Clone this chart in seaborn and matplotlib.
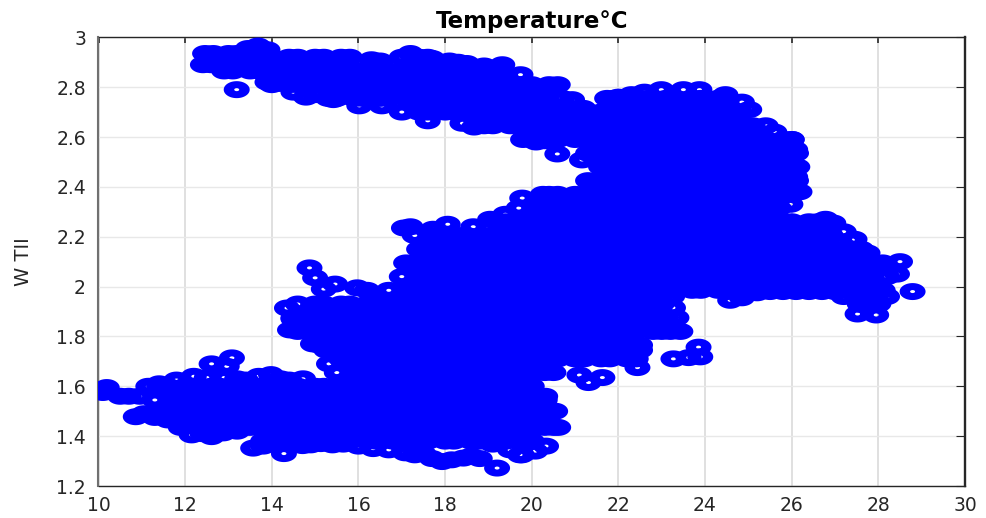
import matplotlib
matplotlib.use("Agg")
import matplotlib.pyplot as plt
import numpy as np
import pandas as pd
import seaborn as sns
from matplotlib.path import Path

edge_x = [13.19, 19.32, 19.74, 14.79, 17.6, 16.54, 16.02, 18.4, 18.67, 19.02, 19.78, 18.06, 17.72, 17.2, 17.05, 19.39, 19.04, 18.65,
          20.59, 21.16, 20.26, 22.99, 23.5, 23.87, 24.47, 24.85, 25.02, 25.4, 25.6, 26.0, 25.8, 26.08, 26.13, 26.08, 25.9, 26.18, 25.97, 26.78, 26.73, 26.96,
          27.2, 27.4, 27.45, 27.75, 28.5, 27.98, 12.46, 12.65, 12.41, 12.6, 12.9, 13.19, 13.0, 13.45, 13.68, 13.9, 14.2, 15.42, 16.3, 16.5, 17.2, 17.7, 18.1, 18.3, 18.5, 18.9,
          20.1, 20.3, 20.5, 20.93, 21.19, 21.74, 22.0, 22.3, 22.6, 13.9, 14.5, 15.0,
          10.1, 10.19, 10.5, 10.7, 10.95, 11.05, 10.86, 11.3, 11.6, 11.9, 12.61, 13.08, 12.96, 15.32, 14.87, 15.0, 15.2, 15.46, 15.97, 16.2, 16.34, 14.35, 14.42,
          14.5, 14.95, 15.26, 14.72, 14.4, 14.2, 13.98, 13.7, 13.4, 13.2, 12.9, 12.5, 12.2, 11.8, 11.4, 11.15,
          14.28, 14.71, 14.9, 13.57, 13.8, 15.13, 15.4, 15.65, 16.0, 16.34, 16.7, 17.08, 17.3, 17.5, 17.7, 19.2, 17.93, 18.15, 18.42, 18.6, 18.8, 19.1, 19.5, 19.77, 20.08,
          12.15, 12.61, 12.88, 13.2, 12.4,
          28.79, 27.95, 27.52, 27.57, 27.2, 28.2, 28.43, 26.4, 26.7, 25.8, 26.1, 25.2, 25.5, 24.58, 24.85, 24.1, 24.5, 24.9, 27.0,
          23.26, 22.94, 23.34, 23.24, 23.43, 23.27, 23.62, 23.89, 23.85, 22.5, 22.44, 21.63, 21.31, 21.1, 20.31, 20.54, 20.61, 20.33, 19.73]
edge_y = [2.79, 2.89, 2.85, 2.76, 2.665, 2.725, 2.725, 2.655, 2.64, 2.72, 2.355, 2.25, 2.23, 2.24, 2.235, 2.29, 2.27, 2.24,
          2.532, 2.508, 2.37, 2.79, 2.79, 2.79, 2.77, 2.74, 2.71, 2.645, 2.62, 2.59, 2.575, 2.55, 2.48, 2.44, 2.42, 2.38, 2.33, 2.27, 2.22, 2.255,
          2.22, 2.187, 2.19, 2.135, 2.10, 2.08, 2.935, 2.935, 2.89, 2.89, 2.87, 2.935, 2.935, 2.955, 2.965, 2.95, 2.815, 2.75, 2.91, 2.905, 2.935, 2.915, 2.905, 2.9, 2.895, 2.885,
          2.58, 2.585, 2.585, 2.75, 2.715, 2.755, 2.76, 2.77, 2.78, 2.82, 2.78, 2.77,
          1.575, 1.595, 1.56, 1.56, 1.56, 1.49, 1.478, 1.475, 1.465, 1.46, 1.69, 1.714, 1.68, 1.69, 2.075, 2.035, 1.99, 2.01, 1.995, 1.985, 1.97, 1.914, 1.826,
          1.87, 1.77, 1.745, 1.63, 1.625, 1.63, 1.647, 1.64, 1.625, 1.63, 1.635, 1.635, 1.64, 1.625, 1.61, 1.60,
          1.33, 1.362, 1.365, 1.352, 1.36, 1.37, 1.365, 1.368, 1.36, 1.35, 1.345, 1.333, 1.325, 1.33, 1.31, 1.272, 1.298, 1.305, 1.312, 1.32, 1.31, 1.368, 1.345, 1.325, 1.34,
          1.405, 1.398, 1.413, 1.42, 1.41,
          1.98, 1.886, 1.89, 1.93, 1.96, 1.96, 2.05, 1.98, 1.98, 1.98, 1.98, 1.975, 1.98, 1.945, 1.955, 2.0, 1.98, 1.98, 1.98,
          1.915, 1.90, 1.875, 1.96, 1.82, 1.71, 1.715, 1.718, 1.757, 1.745, 1.675, 1.635, 1.615, 1.645, 1.56, 1.5, 1.435, 1.36, 1.325]

# the inside of the cloud cannot be read point by point, these rows only
# estimate how far the cloud reaches at each Y level
row_y = [2.92, 2.865, 2.81, 2.755, 2.70, 2.645, 2.59, 2.535, 2.48, 2.425, 2.37, 2.315, 2.26, 2.205, 2.15,
         2.095, 2.04, 1.985, 1.93, 1.875, 1.82, 1.765, 1.71, 1.655, 1.60, 1.545, 1.49, 1.435, 1.38]
row_a = [12.6, 12.8, 13.2, 13.4, 13.8, 14.0, 14.4, 14.6, 15.0, 15.2, 15.6, 15.8, 17.0, 17.4, 17.6]
row_b = [12.9, 13.1, 13.5, 13.7, 14.1, 14.3, 14.7, 14.9, 15.3, 15.5, 15.9, 16.1, 16.5, 16.7, 17.1, 17.3, 17.7, 17.9, 18.3, 18.5, 18.9, 19.1, 19.3]
row_c = [14.0, 14.4, 14.6, 15.0, 15.2, 15.6, 15.8, 16.2, 16.4, 16.8, 17.0, 17.4, 17.6, 18.0, 18.2, 18.6, 18.8, 19.2, 19.4, 19.8, 20.0, 20.4, 20.6]
row_d = [15.3, 15.5, 15.9, 16.1, 16.5, 16.7, 17.1, 17.3, 17.7, 17.9, 18.3, 18.5, 18.9, 19.1, 19.5, 19.7, 20.1, 20.3, 20.7,
         21.9, 22.1, 22.5, 22.7, 23.1, 23.3, 23.7, 23.9, 24.3, 24.5]
row_e = [17.0, 17.4, 17.6, 18.0, 18.2, 18.6, 18.8, 19.2, 19.4, 19.8, 20.0, 20.4, 20.6, 21.0, 21.2, 21.6, 21.8, 22.2, 22.4, 22.8, 23.0,
         23.4, 23.6, 24.0, 24.2, 24.6, 24.8]
row_f = [18.9, 19.1, 19.5, 19.7, 20.1, 20.3, 20.7, 20.9, 21.3, 21.5, 21.9, 22.1, 22.5, 22.7, 23.1, 23.3, 23.7, 23.9, 24.3, 24.5, 24.9, 25.1]
row_g = [19.8, 20.0, 20.4, 20.6, 21.0, 21.2, 21.6, 21.8, 22.2, 22.4, 22.8, 23.0, 23.4, 23.6, 24.0, 24.2, 24.6, 24.8, 25.2, 25.4, 25.8, 26.0]
row_h = [21.3, 21.5, 21.9, 22.1, 22.5, 22.7, 23.1, 23.3, 23.7, 23.9, 24.3, 24.5, 24.9, 25.1, 25.5, 25.7, 26.1]
row_i = [21.6, 21.8, 22.2, 22.4, 22.8, 23.0, 23.4, 23.6, 24.0, 24.2, 24.6, 24.8, 25.2, 25.4, 25.8, 26.0]
row_j = [21.3, 21.5, 21.9, 22.1, 22.5, 22.7, 23.1, 23.3, 23.7, 23.9, 24.3, 24.5, 24.9, 25.1, 25.5, 25.7, 26.1]
row_k = [20.4, 20.6, 21.0, 21.2, 21.6, 21.8, 22.2, 22.4, 22.8, 23.0, 23.4, 23.6, 24.0, 24.2, 24.6, 24.8, 25.2, 25.4, 25.8, 26.0]
row_l = [19.7, 20.1, 20.3, 20.7, 20.9, 21.3, 21.5, 21.9, 22.1, 22.5, 22.7, 23.1, 23.3, 23.7, 23.9, 24.3, 24.5, 24.9, 25.1, 25.5, 25.7]
row_m = [19.2, 19.4, 19.8, 20.0, 20.4, 20.6, 21.0, 21.2, 21.6, 21.8, 22.2, 22.4, 22.8, 23.0, 23.4, 23.6, 24.0, 24.2, 24.6, 24.8, 25.2, 25.4,
         25.8, 26.0, 26.4, 26.6]
row_n = [17.3, 17.7, 17.9, 18.3, 18.5, 18.9, 19.1, 19.5, 19.7, 20.1, 20.3, 20.7, 20.9, 21.3, 21.5, 21.9, 22.1, 22.5, 22.7, 23.1, 23.3,
         23.7, 23.9, 24.3, 24.5, 24.9, 25.1, 25.5, 25.7, 26.1, 26.3, 26.7, 26.9]
row_o = [17.4, 17.6, 18.0, 18.2, 18.6, 18.8, 19.2, 19.4, 19.8, 20.0, 20.4, 20.6, 21.0, 21.2, 21.6, 21.8, 22.2, 22.4, 22.8, 23.0, 23.4, 23.6,
         24.0, 24.2, 24.6, 24.8, 25.2, 25.4, 25.8, 26.0, 26.4, 26.6, 27.0, 27.2, 27.6]
row_p = [17.1, 17.3, 17.7, 17.9, 18.3, 18.5, 18.9, 19.1, 19.5, 19.7, 20.1, 20.3, 20.7, 20.9, 21.3, 21.5, 21.9, 22.1, 22.5, 22.7, 23.1, 23.3,
         23.7, 23.9, 24.3, 24.5, 24.9, 25.1, 25.5, 25.7, 26.1, 26.3, 26.7, 26.9, 27.3, 27.5, 27.9, 28.1]
row_q = [17.0, 17.4, 17.6, 18.0, 18.2, 18.6, 18.8, 19.2, 19.4, 19.8, 20.0, 20.4, 20.6, 21.0, 21.2, 21.6, 21.8, 22.2, 22.4, 22.8, 23.0, 23.4, 23.6,
         24.0, 24.2, 24.6, 24.8, 25.2, 25.4, 25.8, 26.0, 26.4, 26.6, 27.0, 27.2, 27.6, 27.8, 28.2]
row_r = [16.7, 17.1, 17.3, 17.7, 17.9, 18.3, 18.5, 18.9, 19.1, 19.5, 19.7, 20.1, 20.3, 20.7, 20.9, 21.3, 21.5, 21.9, 22.1, 22.5, 22.7, 23.1, 23.3,
         23.7, 23.9, 24.3, 24.5, 24.9, 25.1, 25.5, 25.7, 26.1, 26.3, 26.7, 26.9, 27.3, 27.5, 27.9, 28.1]
row_s = [14.6, 15.0, 15.2, 15.6, 15.8, 16.2, 16.4, 16.8, 17.0, 17.4, 17.6, 18.0, 18.2, 18.6, 18.8, 19.2, 19.4, 19.8, 20.0, 20.4, 20.6,
         21.0, 21.2, 21.6, 21.8, 22.2, 22.4, 22.8, 23.0, 27.6, 27.8, 28.0]
row_t = [14.5, 14.7, 14.9, 15.3, 15.5, 15.9, 16.1, 16.5, 16.7, 17.1, 17.3, 17.7, 17.9, 18.3, 18.5, 18.9, 19.1, 19.5, 19.7, 20.1, 20.3,
         20.7, 20.9, 21.3, 21.5, 21.9, 22.1, 22.5, 22.7, 23.1]
row_u = [14.6, 15.0, 15.2, 15.6, 15.8, 16.2, 16.4, 16.8, 17.0, 17.4, 17.6, 18.0, 18.2, 18.6, 18.8, 19.2, 19.4, 19.8, 20.0, 20.4, 20.6,
         21.0, 21.2, 21.6, 21.8, 22.2, 22.4, 22.8, 23.0, 23.2]
row_v = [15.1, 15.3, 15.5, 15.9, 16.1, 16.5, 16.7, 17.1, 17.3, 17.7, 17.9, 18.3, 18.5, 18.9, 19.1, 19.5, 19.7, 20.1, 20.3, 20.7, 20.9,
         21.3, 21.5, 21.9, 22.1, 22.5]
row_w = [15.6, 15.8, 16.2, 16.4, 16.8, 17.0, 17.4, 17.6, 18.0, 18.2, 18.6, 18.8, 19.2, 19.4, 19.8, 20.0, 20.4, 20.6, 21.0, 21.2, 21.6, 21.8, 22.2, 22.4]
row_x = [15.5, 15.9, 16.1, 16.5, 16.7, 17.1, 17.3, 17.7, 17.9, 18.3, 18.5, 18.9, 19.1, 19.5, 19.7, 20.1, 20.3, 20.5]
row_aa = [11.4, 11.6, 12.0, 12.2, 12.6, 12.8, 13.2, 13.4, 13.8, 14.0, 14.4, 14.6, 15.0, 15.2, 15.6, 15.8, 16.2, 16.4, 16.8, 17.0, 17.4, 17.6,
          18.0, 18.2, 18.6, 18.8, 19.2, 19.4, 19.8, 20.0]
row_ab = [11.3, 11.7, 11.9, 12.3, 12.5, 12.9, 13.1, 13.5, 13.7, 14.1, 14.3, 14.7, 14.9, 15.3, 15.5, 15.9, 16.1, 16.5, 16.7, 17.1, 17.3, 17.7,
          17.9, 18.3, 18.5, 18.9, 19.1, 19.5, 19.7, 20.1, 20.3]
row_ac = [11.4, 11.6, 12.0, 12.2, 12.6, 12.8, 13.2, 13.4, 13.8, 14.0, 14.4, 14.6, 15.0, 15.2, 15.6, 15.8, 16.2, 16.4, 16.8, 17.0, 17.4, 17.6,
          18.0, 18.2, 18.6, 18.8, 19.2, 19.4, 19.8, 20.0, 20.4]
row_ad = [11.9, 12.3, 12.5, 12.9, 13.1, 13.5, 13.7, 14.1, 14.3, 14.7, 14.9, 15.3, 15.5, 15.9, 16.1, 16.5, 16.7, 17.1, 17.3, 17.7, 17.9,
          18.3, 18.5, 18.9, 19.1, 19.5, 19.7, 20.1, 20.3, 20.5]
row_ae = [13.8, 14.0, 14.4, 14.6, 15.0, 15.2, 15.6, 15.8, 16.2, 16.4, 16.8, 17.0, 17.4, 17.6, 18.0, 18.2, 18.6, 18.8, 19.2, 19.4, 19.8, 20.0]
rows_x = [row_a, row_b, row_c, row_d, row_e, row_f, row_g, row_h, row_i, row_j, row_k, row_l, row_m, row_n, row_o,
          row_p, row_q, row_r, row_s, row_t, row_u, row_v, row_w, row_x, row_aa, row_ab, row_ac, row_ad, row_ae]

x_ticks = [10, 12, 14, 16, 18, 20, 22, 24, 26, 28, 30]
y_ticks = [1.2, 1.4, 1.6, 1.8, 2, 2.2, 2.4, 2.6, 2.8, 3]
y_labels = ["1.2", "1.4", "1.6", "1.8", "2", "2.2", "2.4", "2.6", "2.8", "3"]

inner_x = [v for row in rows_x for v in row]
inner_y = [y for y, row in zip(row_y, rows_x) for v in row]
data = pd.DataFrame({"temp": inner_x + edge_x, "wtii": inner_y + edge_y})

sns.set_style("white")
plt.rcParams["font.family"] = ["DejaVu Sans"]

fig = plt.figure(figsize=(9.87, 5.18), dpi=100)
ax = fig.add_axes([98.5 / 987, 1 - 486 / 518, (965 - 98.5) / 987, (486 - 37.3) / 518])

# the source image was stretched sideways, so the rings are ellipses
t = np.linspace(0, 2 * np.pi, 49)
outer = np.column_stack([np.cos(t), 0.654 * np.sin(t)])
inner = np.column_stack([0.19 * np.cos(t), 0.115 * np.sin(t)])[::-1]
ring = Path.make_compound_path(Path(outer, closed=True), Path(inner, closed=True))

sns.scatterplot(data=data, x="temp", y="wtii", ax=ax, marker=ring, s=350,
                color="#0000ff", edgecolor="none", linewidth=0, zorder=3)

ax.set_xlim(10, 30)
ax.set_ylim(1.2, 3)
ax.set_xticks(x_ticks)
ax.set_yticks(y_ticks)
ax.set_yticklabels(y_labels)
ax.xaxis.grid(True, color="#dddddd", linewidth=1.3)
ax.yaxis.grid(True, color="#e8e8e8", linewidth=1.0)
ax.set_axisbelow(True)
ax.tick_params(axis="x", direction="in", length=4.5, width=1.2, color="#262626", labelcolor="#262626",
               labelsize=13.5, top=True, pad=7)
ax.tick_params(axis="y", direction="in", length=6.5, width=0.8, color="#262626", labelcolor="#262626",
               labelsize=13.5, right=True, pad=9)
ax.spines["top"].set(color="#262626", linewidth=1.0)
ax.spines["bottom"].set(color="#262626", linewidth=1.0)
ax.spines["left"].set(color="#707070", linewidth=1.5)
ax.spines["right"].set(color="#262626", linewidth=1.7)

ax.set_xlabel("")
ax.set_ylabel("W TII", fontsize=14, color="#262626")
ax.yaxis.set_label_coords(-0.0756, 0.499)
ax.set_title("Temperature°C", fontsize=16.5, fontweight="bold", color="black", pad=6.5)

fig.savefig("out.png", dpi=100)
